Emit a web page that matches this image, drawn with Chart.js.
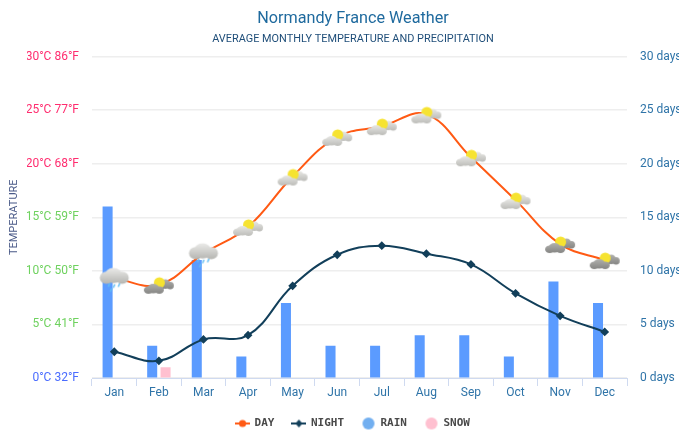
<!DOCTYPE html>
<html>
<head>
<meta charset="utf-8">
<script src="https://cdn.jsdelivr.net/npm/chart.js@4/dist/chart.umd.min.js"></script>
<style>
    body { margin: 0; background: #fff; }
    #wrap { width: 679px; height: 430px; }
</style>
</head>
<body>
<div id="wrap"><canvas id="weather"></canvas></div>
<script>
const months = ['Jan', 'Feb', 'Mar', 'Apr', 'May', 'Jun', 'Jul', 'Aug', 'Sep', 'Oct', 'Nov', 'Dec'];
const dayTemp = [9.3, 8.7, 11.6, 14.1, 18.8, 22.5, 23.5, 24.6, 20.6, 16.6, 12.5, 11.0];
const nightTemp = [2.45, 1.6, 3.6, 4.0, 8.6, 11.5, 12.35, 11.6, 10.6, 7.9, 5.8, 4.3];
const rainDays = [16, 3, 11, 2, 7, 3, 3, 4, 4, 2, 9, 7];
const snowDays = [0, 1, 0, 0, 0, 0, 0, 0, 0, 0, 0, 0];
const iconKinds = ['rain', 'dark', 'rain', 'light', 'light', 'light', 'light', 'light', 'light', 'light', 'dark', 'dark'];
const tempTicks = ['0°C 32°F', '5°C 41°F', '10°C 50°F', '15°C 59°F', '20°C 68°F', '25°C 77°F', '30°C 86°F'];

function puff(ctx, cx, cy, w, h, color, shade) {
    const g = ctx.createLinearGradient(0, cy - h / 2, 0, cy + h / 2);
    g.addColorStop(0, color);
    g.addColorStop(1, shade);
    ctx.fillStyle = g;
    [[-0.03, -0.02, 0.3, 0.48], [-0.27, 0.12, 0.23, 0.38], [0.27, 0.12, 0.23, 0.38]].forEach(l => {
        ctx.beginPath();
        ctx.ellipse(cx + l[0] * w, cy + l[1] * h, l[2] * w, l[3] * h, 0, 0, Math.PI * 2);
        ctx.fill();
    });
}

// icon kecil di atas garis DAY
function makeIcon(kind) {
    const c = document.createElement('canvas');
    c.width = 32;
    c.height = 32;
    const ctx = c.getContext('2d');
    if (kind === 'rain') {
        ctx.strokeStyle = '#62bdf2';
        ctx.lineWidth = 1.5;
        [[10, 21], [15, 22], [20, 21], [12, 26]].forEach(p => {
            ctx.beginPath();
            ctx.moveTo(p[0] + 1.5, p[1]);
            ctx.lineTo(p[0], p[1] + 3.5);
            ctx.stroke();
        });
        puff(ctx, 16, 13.5, 29, 16, '#ebebe9', '#b5b5b1');
    } else {
        const top = kind === 'dark' ? '#b0b0ad' : '#e8e8e5';
        const low = kind === 'dark' ? '#858583' : '#bcbcb8';
        puff(ctx, 23, 15.5, 16, 10, top, low);
        ctx.fillStyle = '#f6e331';
        ctx.beginPath();
        ctx.arc(16.5, 14, 5.5, 0, Math.PI * 2);
        ctx.fill();
        puff(ctx, 11, 20, 20, 10, top, low);
    }
    return c;
}

function legendDot(color) {
    const c = document.createElement('canvas');
    c.width = 14;
    c.height = 14;
    const ctx = c.getContext('2d');
    ctx.fillStyle = color;
    ctx.beginPath();
    ctx.arc(7, 7, 6, 0, Math.PI * 2);
    ctx.fill();
    return c;
}

function legendLine(color, diamond) {
    const c = document.createElement('canvas');
    c.width = 15;
    c.height = 12;
    const ctx = c.getContext('2d');
    ctx.fillStyle = color;
    ctx.fillRect(0, 5, 15, 2);
    ctx.beginPath();
    if (diamond) {
        ctx.moveTo(7.5, 2); ctx.lineTo(11, 6); ctx.lineTo(7.5, 10); ctx.lineTo(4, 6);
    } else {
        ctx.arc(7.5, 6, 3.6, 0, Math.PI * 2);
    }
    ctx.fill();
    return c;
}

function legendItem(text, icon) {
    return { text: text, pointStyle: icon, fontColor: '#4a4a4a', lineWidth: 0, strokeStyle: 'transparent', fillStyle: 'transparent' };
}

const dayIcons = iconKinds.map(makeIcon);

new Chart(document.getElementById('weather'), {
    data: {
        labels: months,
        datasets: [
            {
                type: 'line', label: 'DAY', data: dayTemp, yAxisID: 'temp', order: 1,
                borderColor: '#ff5a14', backgroundColor: '#ff5a14', borderWidth: 2, tension: 0.4,
                pointStyle: dayIcons, pointRadius: 10, pointHoverRadius: 10
            },
            {
                type: 'line', label: 'NIGHT', data: nightTemp, yAxisID: 'temp', order: 2,
                borderColor: '#123f5a', backgroundColor: '#123f5a', borderWidth: 2, tension: 0.4,
                pointStyle: 'rectRot', pointRadius: 3, pointHoverRadius: 3
            },
            {
                type: 'bar', label: 'RAIN', data: rainDays, yAxisID: 'days', order: 3,
                backgroundColor: '#5b9bff', categoryPercentage: 0.6, barPercentage: 0.75
            },
            {
                type: 'bar', label: 'SNOW', data: snowDays, yAxisID: 'days', order: 3,
                backgroundColor: '#ffc0d0', categoryPercentage: 0.6, barPercentage: 0.75
            }
        ]
    },
    options: {
        responsive: true,
        maintainAspectRatio: false,
        animation: false,
        layout: { padding: { top: 9, left: 27, right: 0, bottom: -9 } },
        plugins: {
            title: {
                display: true,
                text: 'Normandy France Weather',
                color: '#1f6a9e',
                font: { family: 'Roboto', size: 16.2, weight: 'normal' },
                padding: { top: 0, bottom: 4 }
            },
            subtitle: {
                display: true,
                text: 'AVERAGE MONTHLY TEMPERATURE AND PRECIPITATION',
                color: '#1f4e79',
                font: { family: 'Roboto', size: 10.9, weight: 'normal' },
                padding: { top: 0, bottom: 11 }
            },
            legend: {
                position: 'bottom',
                labels: {
                    usePointStyle: true,
                    pointStyleWidth: 13,
                    font: { family: 'DejaVu Sans Mono', size: 11, weight: 'bold' },
                    boxHeight: 12,
                    padding: 18,
                    generateLabels: () => [
                        legendItem('DAY', legendLine('#ff5a14', false)),
                        legendItem('NIGHT', legendLine('#123f5a', true)),
                        legendItem('RAIN', legendDot('#72aff0')),
                        legendItem('SNOW', legendDot('#ffc0d0'))
                    ]
                }
            },
            tooltip: { enabled: false }
        },
        scales: {
            x: {
                afterFit: scale => { scale.height = 22; },
                grid: { drawOnChartArea: false, color: '#cfdaf0', tickLength: 8 },
                border: { color: '#cfdaf0' },
                ticks: { color: '#2f74a8', font: { family: 'Roboto', size: 12 }, padding: 0, maxRotation: 0 }
            },
            temp: {
                position: 'left',
                min: 0,
                max: 30,
                afterFit: scale => { scale.width = 65; },
                title: {
                    display: true,
                    text: 'TEMPERATURE',
                    color: '#4a5a88',
                    font: { family: 'Roboto', size: 11 },
                    padding: { top: -19.6, bottom: 0 }
                },
                grid: { color: '#eeeeee', lineWidth: 1.5, drawTicks: false },
                border: { display: false },
                ticks: {
                    stepSize: 5,
                    padding: 13,
                    font: { family: 'Roboto', size: 12 },
                    callback: (v, i) => tempTicks[i],
                    color: ctx => {
                        if (ctx.index === 0) return '#4a6cff';
                        return ctx.index >= 4 ? '#ff2d6f' : '#6fd25f';
                    }
                }
            },
            days: {
                position: 'right',
                min: 0,
                max: 30,
                afterFit: scale => { scale.width = 52; },
                grid: { drawOnChartArea: false, drawTicks: false },
                border: { display: false },
                ticks: {
                    stepSize: 5,
                    padding: 13,
                    color: '#2f74a8',
                    font: { family: 'Roboto', size: 12 },
                    callback: v => v + ' days'
                }
            }
        }
    }
});
</script>
</body>
</html>
